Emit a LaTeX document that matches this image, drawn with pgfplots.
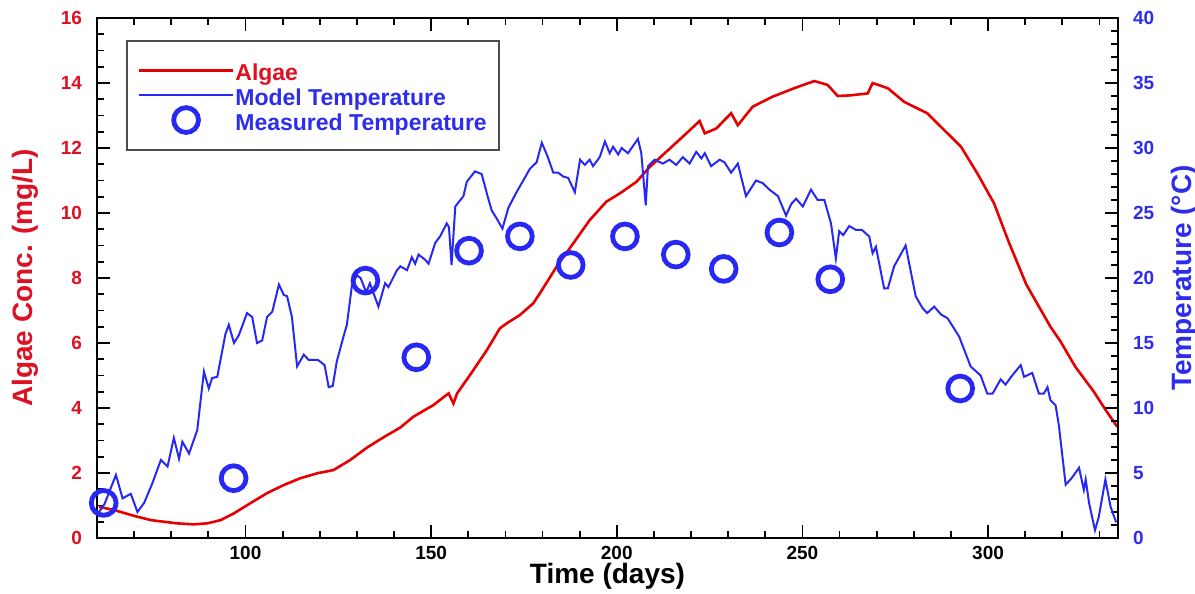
\documentclass[border=0pt]{standalone}
\usepackage{pgfplots}
\pgfplotsset{compat=1.18}
\usepackage{fontspec}
\setmainfont{Liberation Sans}

\definecolor{algred}{RGB}{230,0,0}
\definecolor{labred}{RGB}{222,16,36}
\definecolor{tblue}{RGB}{40,40,245}
\definecolor{labblue}{RGB}{45,45,235}

\pgfplotstableread{
day algae
60.5 0.96
64.6 0.86
70.0 0.68
74.5 0.55
81.6 0.45
86.0 0.42
89.7 0.45
93.3 0.55
96.9 0.76
101.3 1.07
105.8 1.38
110.3 1.63
114.8 1.84
119.3 1.99
123.7 2.09
128.2 2.40
132.7 2.78
137.2 3.10
141.7 3.40
145.2 3.73
150.6 4.09
154.7 4.45
156.0 4.14
157.0 4.45
160.5 5.02
165.0 5.78
168.5 6.45
170.3 6.60
173.9 6.86
177.5 7.22
179.3 7.53
183.8 8.35
188.3 9.07
192.7 9.78
197.2 10.35
200.8 10.60
205.3 10.96
208.9 11.42
213.4 11.89
217.8 12.35
222.3 12.83
223.7 12.45
226.8 12.60
230.8 13.07
232.6 12.70
236.6 13.27
242.0 13.58
247.8 13.84
253.2 14.06
256.8 13.94
259.5 13.60
263.0 13.62
267.6 13.68
268.9 14.00
273.0 13.84
277.4 13.42
283.6 13.07
288.2 12.55
292.7 12.04
297.1 11.22
301.6 10.30
305.6 9.10
310.3 7.80
316.8 6.50
319.5 6.05
323.5 5.27
328.5 4.50
331.6 3.95
334.8 3.42
}\algae

\pgfplotstableread{
day temp
60.3 1.9
62.0 2.6
65.1 4.85
66.9 3.05
69.1 3.4
70.9 2.0
72.7 2.7
74.9 4.2
77.2 6.0
79.0 5.5
80.7 7.7
82.1 6.1
83.0 7.4
84.8 6.5
87.0 8.3
88.8 12.8
90.1 11.5
91.0 12.3
92.4 12.4
94.6 15.7
95.5 16.4
96.9 15.0
98.2 15.6
100.4 17.3
101.8 17.0
103.1 15.0
104.5 15.2
105.8 17.0
107.2 17.4
109.0 19.5
110.3 18.7
111.2 18.6
112.5 17.0
113.9 13.2
115.7 14.1
117.0 13.7
119.5 13.7
121.3 13.3
122.4 11.6
123.5 11.7
124.6 13.6
126.4 15.5
127.3 16.4
128.7 19.5
130.0 20.2
131.0 20.0
132.5 18.9
133.5 19.6
135.8 17.8
137.6 19.6
138.5 19.3
139.9 20.1
140.8 20.6
141.7 20.9
143.5 20.6
144.8 21.6
145.7 21.1
146.6 21.8
148.4 21.4
149.3 21.1
151.1 22.7
152.4 23.2
154.2 24.2
154.8 23.9
155.5 21.0
156.5 25.5
158.7 26.3
159.6 27.4
161.8 28.2
163.6 28.0
165.3 26.2
166.3 25.2
167.6 24.6
169.2 23.8
170.8 25.4
173.0 26.6
174.4 27.3
176.6 28.4
178.4 28.9
179.8 30.4
181.3 29.4
182.9 28.1
184.2 28.1
185.6 27.8
186.9 27.7
188.7 26.6
190.1 29.1
191.4 28.7
192.7 29.1
193.6 28.6
195.4 29.3
196.8 30.5
198.1 29.6
199.0 30.1
200.4 29.5
201.3 30.0
203.0 29.6
205.7 30.7
206.6 29.6
207.8 25.6
208.4 28.6
210.2 29.1
212.4 28.8
214.2 29.1
216.0 28.7
217.8 29.3
219.6 28.8
221.4 29.7
222.8 29.2
223.7 29.6
225.4 28.6
227.7 29.1
229.0 28.9
230.8 28.1
232.6 28.8
234.8 26.3
237.5 27.5
239.3 27.3
241.1 26.8
243.4 26.3
245.6 24.8
247.0 25.7
248.3 26.1
250.1 25.5
252.3 26.8
254.1 26.0
255.9 26.0
257.7 24.2
259.0 21.5
259.9 23.6
261.0 23.3
262.6 24.0
264.4 23.7
266.0 23.7
268.0 23.2
268.9 21.9
269.8 22.4
272.0 19.2
273.0 19.2
274.7 20.9
277.8 22.5
280.5 18.6
282.3 17.7
283.6 17.3
285.5 17.8
287.3 17.2
289.1 16.9
292.2 15.5
295.3 13.2
298.0 12.5
299.8 11.1
301.2 11.1
303.4 12.2
304.7 11.8
306.5 12.5
308.8 13.3
309.7 12.4
311.9 12.7
313.7 11.1
315.0 11.1
316.0 11.6
316.8 10.6
318.2 10.2
319.1 8.6
320.9 4.1
322.5 4.6
324.5 5.4
325.8 3.7
326.3 4.5
327.2 2.7
328.8 0.6
329.8 1.6
331.6 4.5
333.0 2.4
334.5 1.2
}\modeltemp

\pgfplotstableread{
day temp
61.8 2.7
96.8 4.6
132.3 19.8
146.0 13.9
160.2 22.1
173.9 23.2
187.6 21.0
202.2 23.2
215.9 21.8
228.8 20.7
243.8 23.5
257.5 19.9
292.5 11.5
}\meastemp

% inward tick marks, drawn by hand on the box
\newcommand\xticksat[2]{%
  \pgfplotsforeachungrouped \t in {#1}{%
    \edef\temp{\noexpand\draw[black, line width=0.9pt] (axis cs:\t,0) -- ++(0pt,#2);
      \noexpand\draw[black, line width=0.9pt] (axis cs:\t,16) -- ++(0pt,-#2);}\temp}}
\newcommand\yticksat[3]{% list, x of the side, signed length
  \pgfplotsforeachungrouped \t in {#1}{%
    \edef\temp{\noexpand\draw[black, line width=0.9pt] (axis cs:#2,\t) -- ++(#3,0pt);}\temp}}

\pgfplotsset{
  common/.style={
    scale only axis, width=510.5pt, height=260pt,
    xmin=60, xmax=335,
    axis line style={line width=1.2pt},
    tick label style={font=\bfseries\fontsize{9.5}{11}\selectfont},
    /pgf/number format/assume math mode=true,
    label style={font=\bfseries\fontsize{14}{16}\selectfont},
    major tick length=0pt, minor tick length=0pt,
    clip=false,
  },
  lineleg/.style={legend image code/.code={\draw[##1] (0pt,0pt) -- (47pt,0pt);}},
  markleg/.style={legend image code/.code={\draw[mark repeat=2, mark phase=2, ##1]
    plot coordinates {(0pt,0pt) (23.5pt,0pt) (47pt,0pt)};}},
}

\begin{document}
\begin{tikzpicture}
\begin{axis}[
  common,
  ymin=0, ymax=16,
  xtick={100,150,...,300},
  ytick={0,2,...,16},
  xtick pos=both, xticklabel pos=lower,
  ytick pos=left,
  yticklabel style={text=labred, xshift=-4pt},
  xticklabel style={yshift=-0.5pt},
  xlabel={Time (days)},
  xlabel style={at={(axis description cs:0.5,-0.087)}, anchor=base},
  ylabel={Algae Conc. (mg/L)},
  ylabel style={text=labred, at={(axis description cs:-0.0627,0.5)}, anchor=base},
]
\xticksat{70,80,...,330}{3.5pt}
\xticksat{100,150,...,300}{6.5pt}
\yticksat{0.5,1,...,15.5}{60}{3.5pt}
\yticksat{2,4,...,14}{60}{6.5pt}
\addplot[algred, line width=1.3pt] table[x=day, y=algae] {\algae};
\end{axis}

\begin{axis}[
  common, name=ax,
  ymin=0, ymax=40,
  xtick=\empty,
  ytick={0,5,...,40},
  ytick pos=right, yticklabel pos=right,
  yticklabel style={text=labblue, xshift=4pt},
  ylabel={Temperature (°C)},
  ylabel style={text=labblue, at={(axis description cs:1.0715,0.5)}, anchor=base},
  legend cell align=left,
  legend style={
    at={(axis description cs:0.0284,0.957)}, anchor=north west,
    draw=black!70, line width=0.8pt, fill=white,
    inner xsep=5.5pt, inner ysep=8.75pt,
    row sep=0.25pt,
    font=\bfseries\fontsize{11.5}{13}\selectfont,
    nodes={text height=10.5pt, text depth=0.5pt, inner sep=0.5pt},
    /tikz/every even column/.append style={column sep=2.5pt},
  },
]
\yticksat{1,2,...,39}{335}{-3.5pt}
\yticksat{5,10,...,35}{335}{-6.5pt}
\addlegendimage{algred, line width=1.3pt, lineleg}
\addlegendentry{\textcolor{labred}{Algae}}
\addplot[tblue, line width=1pt, lineleg]
  table[x=day, y=temp] {\modeltemp};
\addlegendentry{\textcolor{labblue}{Model Temperature}}
\addplot[only marks, mark=o, mark size=6.2pt,
  mark options={draw=tblue, line width=2.4pt}, markleg]
  table[x=day, y=temp] {\meastemp};
\addlegendentry{\textcolor{labblue}{Measured Temperature}}
\end{axis}

\pgfresetboundingbox
\path[use as bounding box] ([xshift=-48.5pt,yshift=-28pt]ax.south west)
  rectangle ([xshift=38.5pt,yshift=9pt]ax.north east);
\end{tikzpicture}
\end{document}
